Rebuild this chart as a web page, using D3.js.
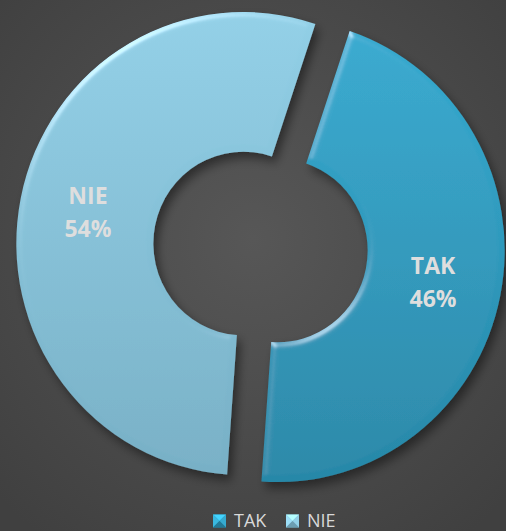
<!DOCTYPE html>
<html><head><meta charset="utf-8">
<script src="https://cdn.jsdelivr.net/npm/d3@7"></script>
<style>html,body{margin:0;padding:0;background:#444;}svg{display:block;}</style>
</head><body>
<script>
const categories = ["TAK", "NIE"];
const values = [46, 54];
const labels = ["TAK\n46%", "NIE\n54%"];
const legendLabels = ["TAK", "NIE"];

const W = 506, H = 531;
const svg = d3.select("body").append("svg").attr("width", W).attr("height", H);
const defs = svg.append("defs");

const bg = defs.append("radialGradient").attr("id","bg").attr("cx","50%").attr("cy","45%").attr("r","70%");
bg.append("stop").attr("offset","0%").attr("stop-color","#575757");
bg.append("stop").attr("offset","100%").attr("stop-color","#404040");
svg.append("rect").attr("width",W).attr("height",H).attr("fill","url(#bg)");

const colors = {TAK:["#36abd1","#2787a7"], NIE:["#92d0e7","#77afc5"]};
categories.forEach(c=>{
  const g = defs.append("linearGradient").attr("id","g"+c).attr("gradientUnits","userSpaceOnUse")
    .attr("x1",0).attr("y1",-235).attr("x2",0).attr("y2",235);
  g.append("stop").attr("offset","0%").attr("stop-color",colors[c][0]);
  g.append("stop").attr("offset","100%").attr("stop-color",colors[c][1]);
});

const f = defs.append("filter").attr("id","bevel").attr("x","-10%").attr("y","-10%").attr("width","125%").attr("height","125%");
f.append("feGaussianBlur").attr("in","SourceAlpha").attr("stdDeviation",5).attr("result","sh");
f.append("feOffset").attr("in","sh").attr("dx",4).attr("dy",6).attr("result","sho");
f.append("feComponentTransfer").attr("in","sho").attr("result","shd")
  .append("feFuncA").attr("type","linear").attr("slope",0.45);
f.append("feGaussianBlur").attr("in","SourceAlpha").attr("stdDeviation",3).attr("result","blur");
const sp = f.append("feSpecularLighting").attr("in","blur").attr("surfaceScale",3).attr("specularConstant",0.6)
  .attr("specularExponent",25).attr("lighting-color","#ffffff").attr("result","spec");
sp.append("feDistantLight").attr("azimuth",235).attr("elevation",28);
f.append("feComposite").attr("in","spec").attr("in2","SourceAlpha").attr("operator","in").attr("result","specIn");
f.append("feComposite").attr("in","SourceGraphic").attr("in2","specIn").attr("operator","arithmetic")
  .attr("k1",0).attr("k2",1).attr("k3",0.6).attr("k4",0).attr("result","lit");
const m = f.append("feMerge");
m.append("feMergeNode").attr("in","shd");
m.append("feMergeNode").attr("in","lit");

const cx = 260.5, cy = 247;
const R = 227, r = 90, explode = 17.5;
const start = 18.5 * Math.PI / 180;

const pie = d3.pie().sort(null).value(d=>d.v).startAngle(start).endAngle(start + 2*Math.PI);
const data = pie(categories.map((c,i)=>({c, v: values[i], label: labels[i]})));
const arc = d3.arc().innerRadius(r).outerRadius(R);

const g = svg.append("g").attr("transform",`translate(${cx},${cy}) scale(1,1.02)`);
const slices = g.selectAll("g.s").data(data).join("g").attr("class","s")
  .attr("transform", d=>{
    const a = (d.startAngle + d.endAngle)/2;
    return `translate(${explode*Math.sin(a)},${-explode*Math.cos(a)})`;
  });
slices.append("path").attr("d",arc).attr("fill",d=>`url(#g${d.data.c})`).attr("filter","url(#bevel)");
slices.each(function(d){
  const [x,y] = arc.centroid(d);
  const t = d3.select(this).append("text").attr("transform",`translate(${x},${y}) scale(1,${1/1.02})`)
    .attr("text-anchor","middle").attr("font-family","'Open Sans', sans-serif")
    .attr("font-weight","bold").attr("font-size",23).attr("fill","#dedede");
  d.data.label.split("\n").forEach((s,i)=>{
    t.append("tspan").attr("x",0).attr("y", i===0 ? -8 : 25).text(s);
  });
});

// legend
const leg = svg.append("g").attr("transform","translate(0,521)");
const lx = [213, 286];
legendLabels.forEach((c,i)=>{
  const gg = leg.append("g").attr("transform",`translate(${lx[i]},0)`);
  const s = 13, h = s/2;
  const col = colors[c];
  gg.append("rect").attr("x",0).attr("y",-h).attr("width",s).attr("height",s).attr("fill",col[1]);
  const tri = [[[0,-h],[s,-h],[h,0]],[[0,-h],[0,h],[h,0]],[[s,-h],[s,h],[h,0]],[[0,h],[s,h],[h,0]]];
  const shades = [d3.color(col[0]).brighter(0.6), d3.color(col[0]).brighter(0.2), col[0], d3.color(col[1]).darker(0.3)];
  tri.forEach((p,k)=>gg.append("path").attr("d","M"+p.map(q=>q.join(",")).join("L")+"Z").attr("fill",shades[k]));
  gg.append("text").attr("x",s+8).attr("y",6).attr("font-family","'Open Sans', sans-serif")
    .attr("font-size",18).attr("fill","#d9d9d9").text(c);
});
</script>
</body></html>
